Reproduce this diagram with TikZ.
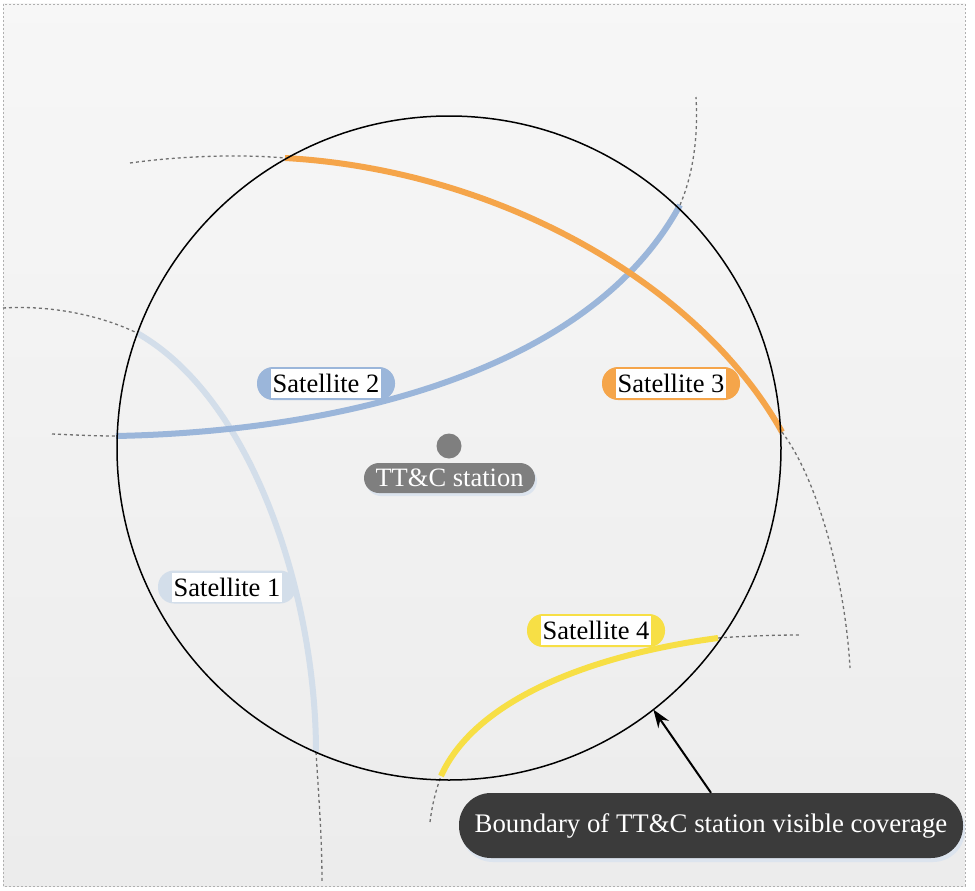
\documentclass[tikz,border=0pt]{standalone}
\usepackage{fontspec}
\setmainfont{Liberation Serif}
\usetikzlibrary{arrows.meta}
\definecolor{sorange}{HTML}{F5A54A}
\definecolor{sblue}{HTML}{9BB6DA}
\definecolor{slight}{HTML}{D3DEEA}
\definecolor{syellow}{HTML}{F7DF45}
\definecolor{stgray}{HTML}{7F7F7F}
\definecolor{bdark}{HTML}{3B3B3B}
\definecolor{dotgray}{HTML}{707070}
\definecolor{frame}{HTML}{B0B0B0}
\definecolor{bgtop}{HTML}{FCFCFC}
\definecolor{bgmid}{HTML}{E9E9E9}
\definecolor{bgbot}{HTML}{F4F4F4}
\definecolor{shadowc}{HTML}{DCE4EE}
\pgfdeclareverticalshading{bgshade}{100bp}{color(0bp)=(bgbot); color(12bp)=(bgmid); color(55bp)=(bgmid!50!bgtop); color(100bp)=(bgtop)}
\begin{document}
\begin{tikzpicture}[x=1pt,y=-1pt,
  orbitdot/.style={draw=dotgray, line width=1.3pt, dash pattern=on 3pt off 3pt},
  track/.style={line width=6pt},
  satbox/.style={rounded corners=16pt, minimum width=138pt, minimum height=33pt, inner sep=0pt},
  sattext/.style={fill=white, inner xsep=1.2pt, inner ysep=0pt, minimum height=29pt, font=\fontsize{26.5}{30}\selectfont, text=black}]
\useasboundingbox (0,0) rectangle (975,891);
% background and frame
\fill[white] (0,0) rectangle (975,891);
\shade[shading=bgshade] (3,4) rectangle (965,886);
\draw[frame, line width=0.9pt, dash pattern=on 2pt off 2pt] (3,4) rectangle (965,886);

% Satellite 3 orbit (orange)
\draw[orbitdot] (130,163) .. controls (180,156) and (240,154) .. (285,158);
\draw[orbitdot] (782,432) .. controls (818,480) and (845,580) .. (850,668);
% Satellite 2 orbit (blue)
\draw[orbitdot] (52,434) .. controls (75,435) and (95,436) .. (116,436);
\draw[orbitdot] (680,205) .. controls (695,170) and (698,130) .. (696,97);
% Satellite 1 orbit (light blue)
\draw[orbitdot] (3,308) .. controls (50,305) and (100,315) .. (137,333);
\draw[orbitdot] (316,752) .. controls (319,800) and (322,840) .. (322,882);
% Satellite 4 orbit (yellow)
\draw[orbitdot] (430,822) .. controls (432,805) and (436,790) .. (441,776);
\draw[orbitdot] (718,638) .. controls (745,636) and (775,635) .. (800,635);

% visible tracks
\draw[track, slight] (137,333) .. controls (255,400) and (316,600) .. (316,752);
\draw[track, sblue] (116,436) .. controls (320,432) and (585,380) .. (680,205);
\draw[track, sorange] (285,158) .. controls (500,170) and (700,285) .. (782,432);
\draw[track, syellow] (441,776) .. controls (475,700) and (590,655) .. (718,638);

% coverage boundary
\node[circle, draw=black, line width=1.5pt, minimum size=664pt, inner sep=0pt, outer sep=0pt] (cov) at (449,448) {};

% station
\node[circle, fill=stgray, minimum size=25pt, inner sep=0pt] (stdot) at (449,446) {};
\fill[shadowc, rounded corners=15pt] (366,466) rectangle (537,496);
\node[fill=stgray, rounded corners=15pt, minimum width=171pt, minimum height=30pt, inner sep=0pt, text=white, font=\fontsize{26.5}{30}\selectfont] (st) at (449.5,478) {TT\&C station};

% satellite labels
\node[satbox, fill=sblue] (s2box) at (326,383.5) {};
\node[sattext] (s2) at (326,383.5) {Satellite 2};
\node[satbox, fill=sorange] (s3box) at (671,383.5) {};
\node[sattext] (s3) at (671,383.5) {Satellite 3};
\node[satbox, fill=slight] (s1box) at (227,587) {};
\node[sattext] (s1) at (227,587) {Satellite 1};
\node[satbox, fill=syellow] (s4box) at (596,630.5) {};
\node[sattext] (s4) at (596,630.5) {Satellite 4};

% boundary label
\fill[shadowc, rounded corners=32pt] (461,797) rectangle (965,862);
\node[fill=bdark, rounded corners=32pt, minimum width=504pt, minimum height=65pt, inner sep=0pt, text=white, font=\fontsize{26.8}{30}\selectfont] (bnd) at (711,825.5) {Boundary of TT\&C station visible coverage};
\draw[-{Stealth[length=18pt,width=13pt]}, line width=2pt] (bnd.north) -- (cov.-52);
\end{tikzpicture}
\end{document}
